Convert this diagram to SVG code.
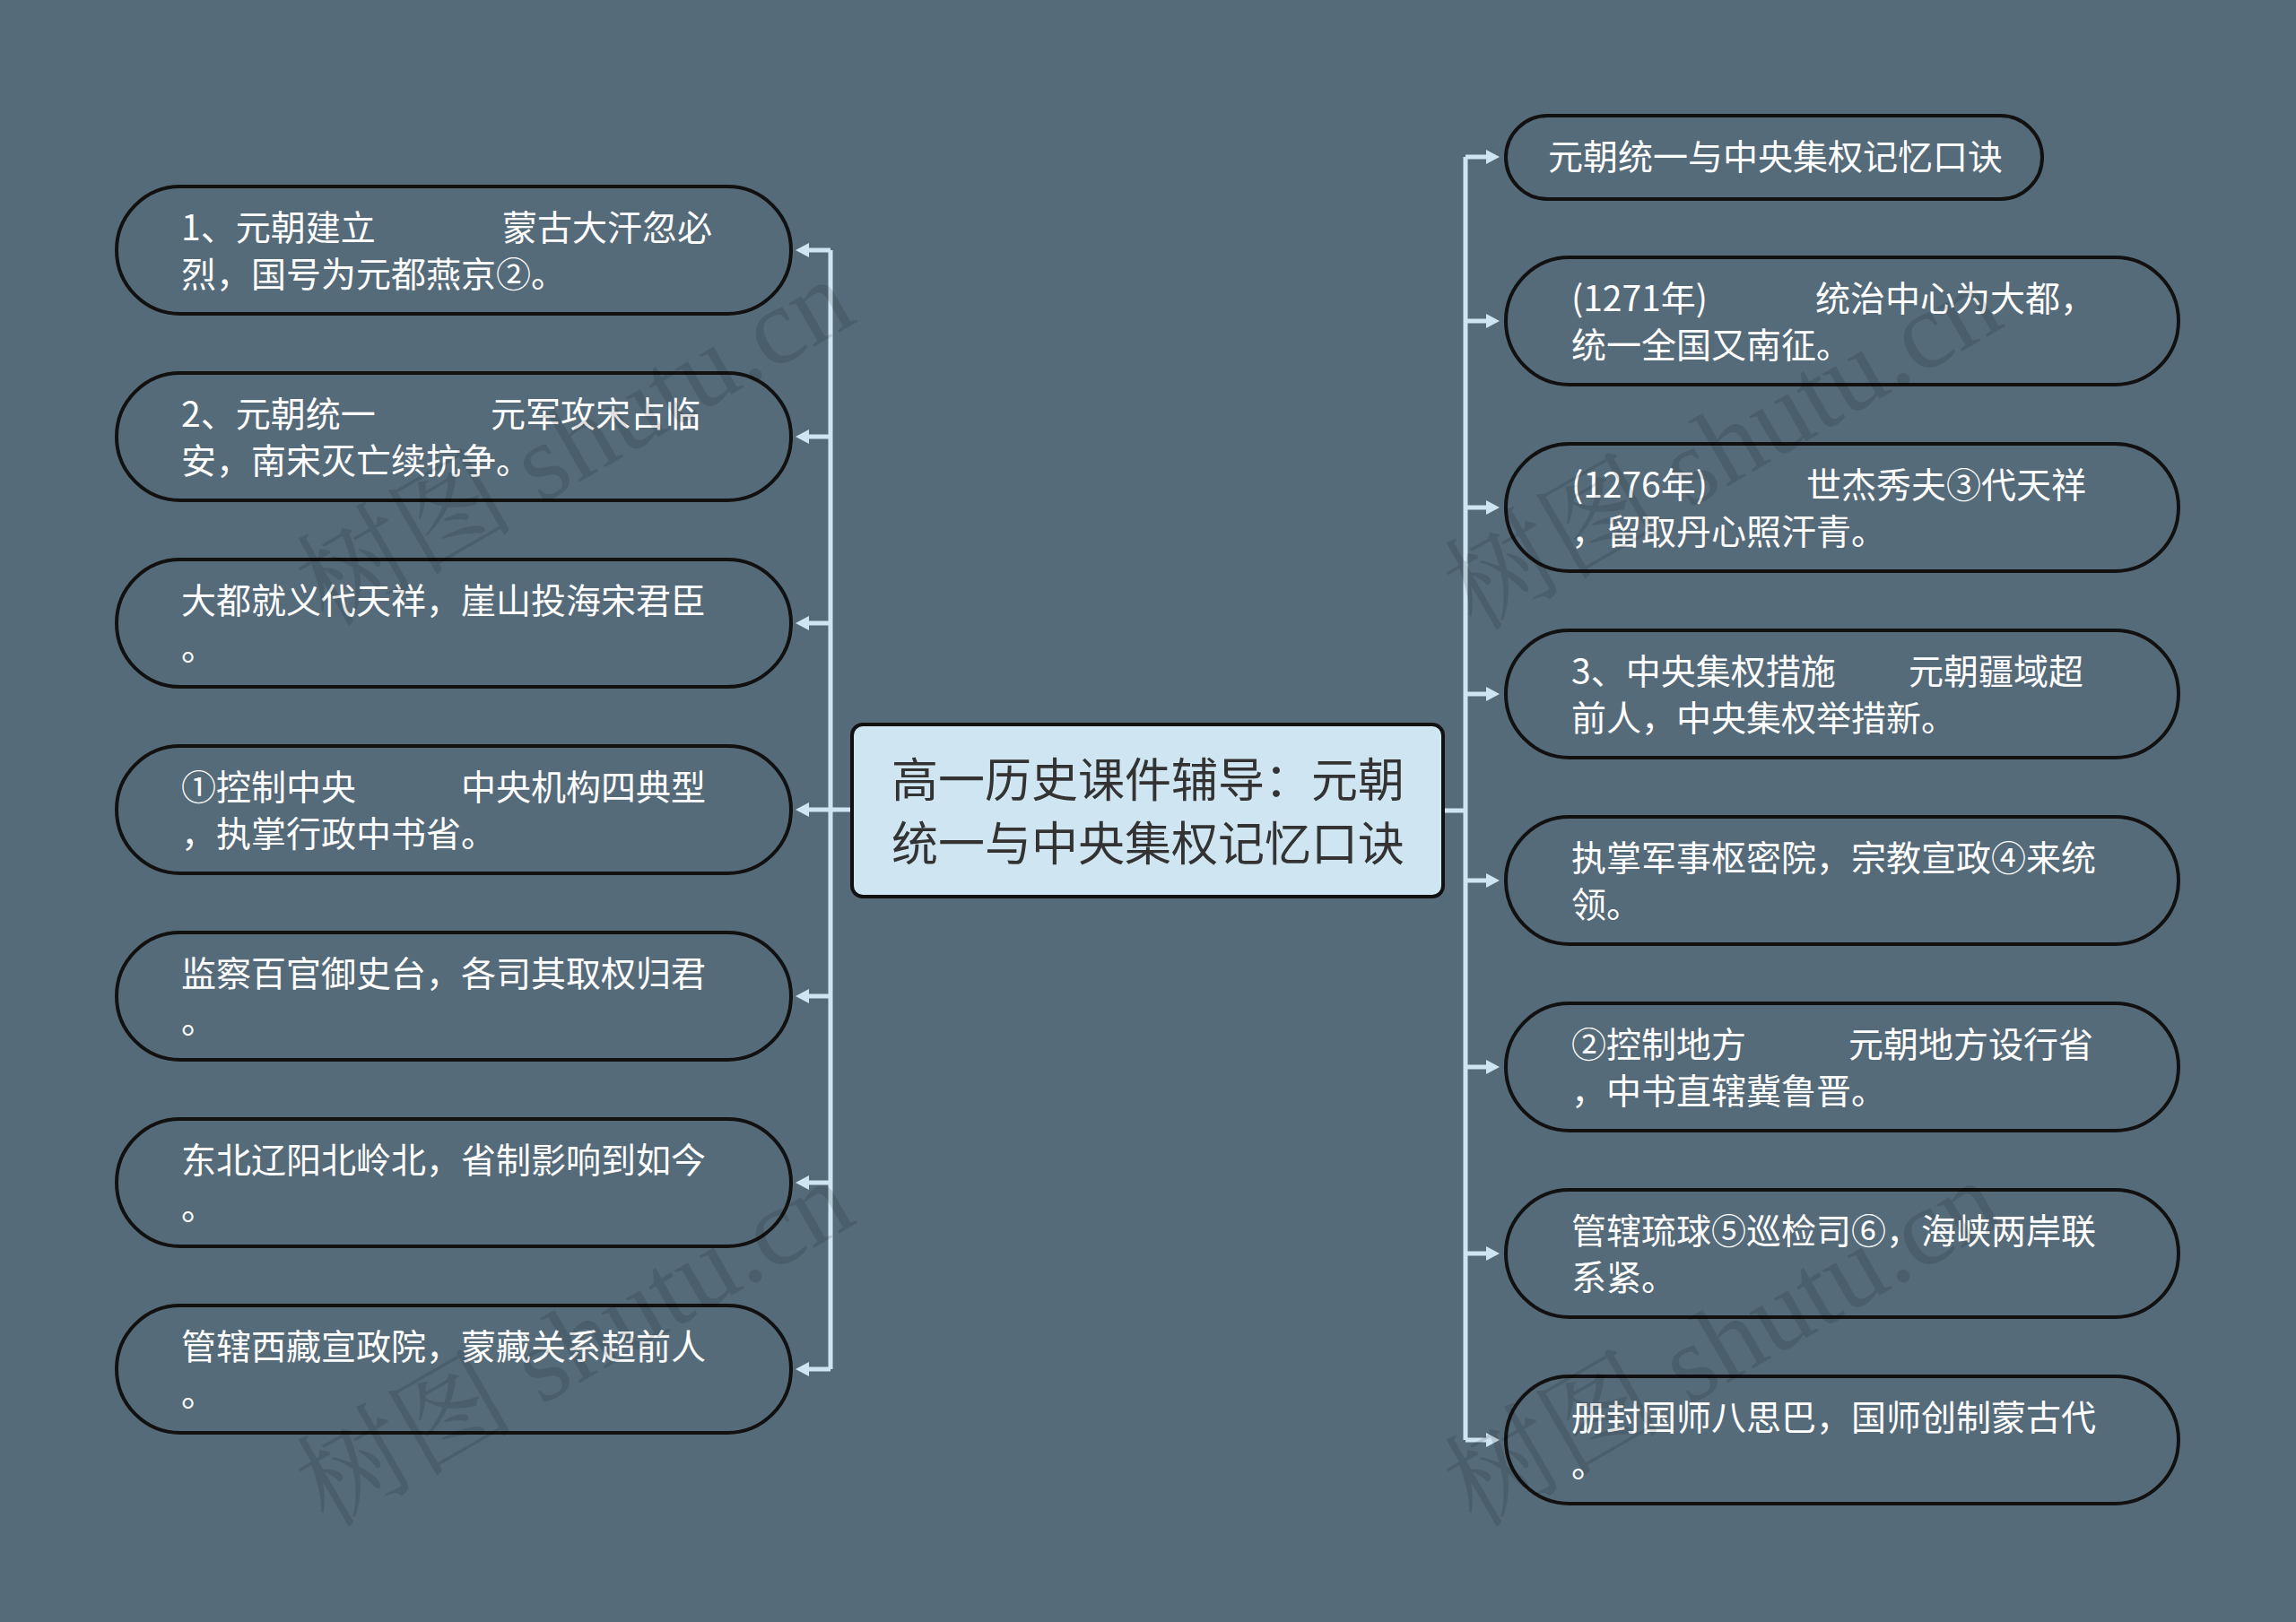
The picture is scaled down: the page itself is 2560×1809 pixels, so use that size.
<svg xmlns="http://www.w3.org/2000/svg" width="2560" height="1809" viewBox="0 0 2560 1809">
<defs>
<style>
.node{fill:#566b7a;stroke:#111;stroke-width:4}
.t{font-family:"Noto Sans CJK SC","Noto Sans",sans-serif;font-size:39px;fill:#ffffff}
.title{font-family:"Noto Sans CJK SC","Noto Sans",sans-serif;font-size:52px;fill:#333333;text-anchor:middle}
.conn{fill:none;stroke:#cfe6f2;stroke-width:5}
.wm{font-family:"Liberation Serif","Noto Serif CJK SC","Noto Sans CJK SC",serif;font-size:122px;fill:#000;fill-opacity:0.12}
</style>
<marker id="arr" viewBox="0 0 15 16" refX="0" refY="8" markerWidth="15" markerHeight="16" markerUnits="userSpaceOnUse" orient="auto">
<path d="M0,0 L15,8 L0,16 Z" fill="#cfe6f2"/>
</marker>
</defs>
<rect x="0" y="0" width="2560" height="1809" fill="#566b7a"/>

<g id="connectors">
<path class="conn" d="M950,903 H926"/>
<path class="conn" d="M926,279 V1527"/>
<path class="conn" d="M926,279 H902" marker-end="url(#arr)"/>
<path class="conn" d="M926,487 H902" marker-end="url(#arr)"/>
<path class="conn" d="M926,695 H902" marker-end="url(#arr)"/>
<path class="conn" d="M926,903 H902" marker-end="url(#arr)"/>
<path class="conn" d="M926,1111 H902" marker-end="url(#arr)"/>
<path class="conn" d="M926,1319 H902" marker-end="url(#arr)"/>
<path class="conn" d="M926,1527 H902" marker-end="url(#arr)"/>
<path class="conn" d="M1609,904 H1634"/>
<path class="conn" d="M1634,175 V1606"/>
<path class="conn" d="M1634,175 H1657" marker-end="url(#arr)"/>
<path class="conn" d="M1634,358 H1657" marker-end="url(#arr)"/>
<path class="conn" d="M1634,566 H1657" marker-end="url(#arr)"/>
<path class="conn" d="M1634,774 H1657" marker-end="url(#arr)"/>
<path class="conn" d="M1634,982 H1657" marker-end="url(#arr)"/>
<path class="conn" d="M1634,1190 H1657" marker-end="url(#arr)"/>
<path class="conn" d="M1634,1398 H1657" marker-end="url(#arr)"/>
<path class="conn" d="M1634,1606 H1657" marker-end="url(#arr)"/>
</g>

<g id="center">
<rect x="950" y="808" width="659" height="192" rx="12" fill="#cfe6f2" stroke="#111" stroke-width="4"/>
<text class="title" x="1280" y="889">高一历史课件辅导：元朝</text>
<text class="title" x="1280" y="960">统一与中央集权记忆口诀</text>
</g>

<g id="L1">
<rect class="node" x="130" y="208" width="752" height="142" rx="71"/>
<text class="t" y="268"><tspan x="202">1、元朝建立</tspan><tspan x="560">蒙古大汗忽必</tspan></text>
<text class="t" x="202" y="320">烈，国号为元都燕京②。</text>
</g>
<g id="L2">
<rect class="node" x="130" y="416" width="752" height="142" rx="71"/>
<text class="t" y="476"><tspan x="202">2、元朝统一</tspan><tspan x="547">元军攻宋占临</tspan></text>
<text class="t" x="202" y="528">安，南宋灭亡续抗争。</text>
</g>
<g id="L3">
<rect class="node" x="130" y="624" width="752" height="142" rx="71"/>
<text class="t" x="202" y="684">大都就义代天祥，崖山投海宋君臣</text>
<text class="t" x="202" y="736">。</text>
</g>
<g id="L4">
<rect class="node" x="130" y="832" width="752" height="142" rx="71"/>
<text class="t" y="892"><tspan x="202">①控制中央</tspan><tspan x="514">中央机构四典型</tspan></text>
<text class="t" x="202" y="944">，执掌行政中书省。</text>
</g>
<g id="L5">
<rect class="node" x="130" y="1040" width="752" height="142" rx="71"/>
<text class="t" x="202" y="1100">监察百官御史台，各司其取权归君</text>
<text class="t" x="202" y="1152">。</text>
</g>
<g id="L6">
<rect class="node" x="130" y="1248" width="752" height="142" rx="71"/>
<text class="t" x="202" y="1308">东北辽阳北岭北，省制影响到如今</text>
<text class="t" x="202" y="1360">。</text>
</g>
<g id="L7">
<rect class="node" x="130" y="1456" width="752" height="142" rx="71"/>
<text class="t" x="202" y="1516">管辖西藏宣政院，蒙藏关系超前人</text>
<text class="t" x="202" y="1568">。</text>
</g>

<g id="R0">
<rect class="node" x="1679" y="129" width="598" height="93" rx="46.5"/>
<text class="t" x="1726" y="189">元朝统一与中央集权记忆口诀</text>
</g>
<g id="R1">
<rect class="node" x="1679" y="287" width="750" height="142" rx="71"/>
<text class="t" y="347"><tspan x="1752">(1271年)</tspan><tspan x="2024">统治中心为大都，</tspan></text>
<text class="t" x="1752" y="399">统一全国又南征。</text>
</g>
<g id="R2">
<rect class="node" x="1679" y="495" width="750" height="142" rx="71"/>
<text class="t" y="555"><tspan x="1752">(1276年)</tspan><tspan x="2014">世杰秀夫③代天祥</tspan></text>
<text class="t" x="1752" y="607">，留取丹心照汗青。</text>
</g>
<g id="R3">
<rect class="node" x="1679" y="703" width="750" height="142" rx="71"/>
<text class="t" y="763"><tspan x="1752">3、中央集权措施</tspan><tspan x="2128">元朝疆域超</tspan></text>
<text class="t" x="1752" y="815">前人，中央集权举措新。</text>
</g>
<g id="R4">
<rect class="node" x="1679" y="911" width="750" height="142" rx="71"/>
<text class="t" x="1752" y="971">执掌军事枢密院，宗教宣政④来统</text>
<text class="t" x="1752" y="1023">领。</text>
</g>
<g id="R5">
<rect class="node" x="1679" y="1119" width="750" height="142" rx="71"/>
<text class="t" y="1179"><tspan x="1752">②控制地方</tspan><tspan x="2061">元朝地方设行省</tspan></text>
<text class="t" x="1752" y="1231">，中书直辖冀鲁晋。</text>
</g>
<g id="R6">
<rect class="node" x="1679" y="1327" width="750" height="142" rx="71"/>
<text class="t" x="1752" y="1387">管辖琉球⑤巡检司⑥，海峡两岸联</text>
<text class="t" x="1752" y="1439">系紧。</text>
</g>
<g id="R7">
<rect class="node" x="1679" y="1535" width="750" height="142" rx="71"/>
<text class="t" x="1752" y="1595">册封国师八思巴，国师创制蒙古代</text>
<text class="t" x="1752" y="1647">。</text>
</g>

<g id="watermarks">
<text class="wm" transform="translate(365,700) rotate(-30)">树图 shutu.cn</text>
<text class="wm" transform="translate(1645,705) rotate(-30)">树图 shutu.cn</text>
<text class="wm" transform="translate(365,1705) rotate(-30)">树图 shutu.cn</text>
<text class="wm" transform="translate(1645,1705) rotate(-30)">树图 shutu.cn</text>
</g>
</svg>
